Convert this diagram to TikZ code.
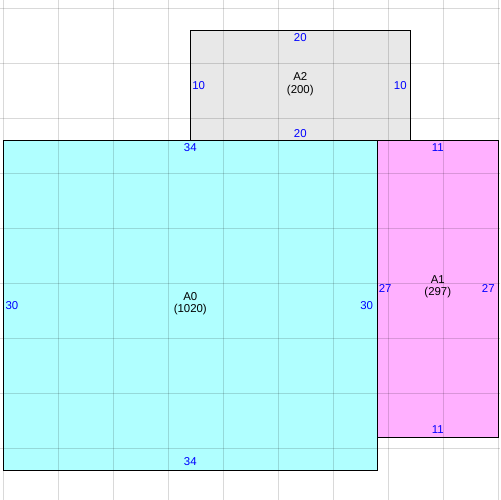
\documentclass[tikz,border=0pt]{standalone}
\usepackage{fontspec}
\setmainfont{Liberation Sans}
\usetikzlibrary{positioning}
\definecolor{sheetcyan}{RGB}{176,255,255}
\definecolor{sheetpink}{RGB}{255,176,255}
\definecolor{sheetgrey}{RGB}{232,232,232}
\tikzset{gridline/.style = {black, opacity = 0.15, line width = 0.5pt}}
\tikzset{sheet/.style = {draw = black, line width = 0.6pt}}
\tikzset{dim/.style = {text = blue, inner sep = 0, font = \fontsize{6.5}{7}\selectfont}}
\tikzset{title/.style = {align = center, inner sep = 0, font = \fontsize{6.5}{7}\selectfont}}

\begin{document}
\begin{tikzpicture}[x = 0.22cm, y = -0.22cm]
    \useasboundingbox (-0.3, -0.755) rectangle (45.155, 44.7);

    \fill [sheetgrey] (17, 2) rectangle (37, 12);
    \fill [sheetcyan] (0, 12) rectangle (34, 42);
    \fill [sheetpink] (34, 12) rectangle (45, 39);

    \foreach \u in {0, 5, ..., 45}
        \draw [gridline] (\u, -0.755) -- (\u, 44.7);
    \foreach \v in {0, 5, ..., 40}
        \draw [gridline] (-0.3, \v) -- (45.155, \v);

    \draw [sheet] (17, 2) rectangle (37, 12);
    \draw [sheet] (0, 12) rectangle (34, 42);
    \draw [sheet] (34, 12) rectangle (45, 39);

    \node [title] (a2) at (27, 6.9) {A2\\(200)};
    \node [dim, anchor = north] (a2top) at (27, 2.3) {20};
    \node [dim, anchor = south] (a2bot) at (27, 11.75) {20};
    \node [dim, anchor = west] (a2left) at (17.15, 7.06) {10};
    \node [dim, anchor = east] (a2right) at (36.7, 7.06) {10};

    \node [title] (a0) at (17, 26.85) {A0\\(1020)};
    \node [dim, anchor = north] (a0top) at (17, 12.3) {34};
    \node [dim, anchor = south] (a0bot) at (17, 41.65) {34};
    \node [dim, anchor = west] (a0left) at (0.18, 27) {30};
    \node [dim, anchor = east] (a0right) at (33.65, 27) {30};

    \node [title] (a1) at (39.5, 25.3) {A1\\(297)};
    \node [dim, anchor = north] (a1top) at (39.5, 12.3) {11};
    \node [dim, anchor = south] (a1bot) at (39.5, 38.7) {11};
    \node [dim, anchor = west] (a1left) at (34.1, 25.5) {27};
    \node [dim, anchor = east] (a1right) at (44.7, 25.5) {27};
  \end{tikzpicture}
\end{document}
